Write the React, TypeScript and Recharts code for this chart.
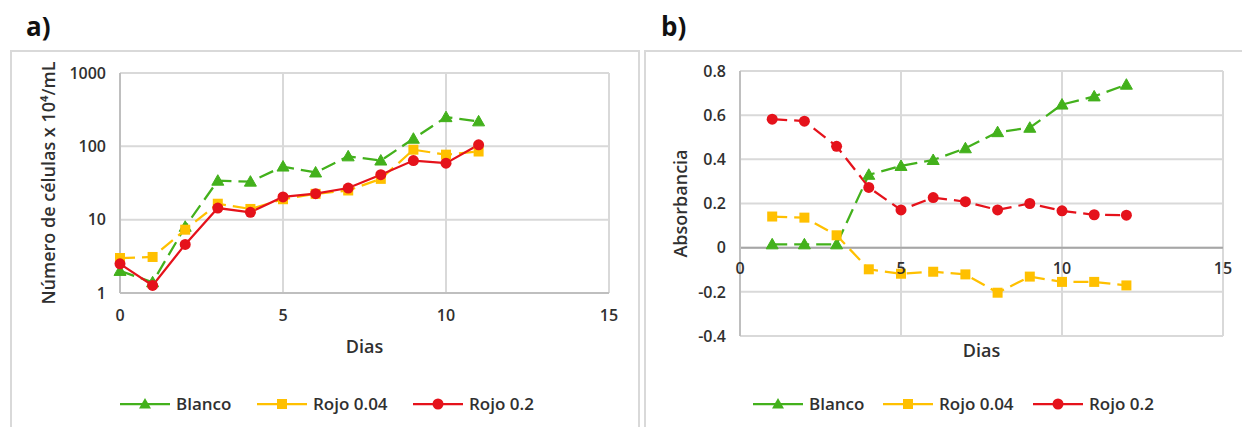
import React from 'react'
import {
  LineChart,
  Line,
  XAxis,
  YAxis,
  CartesianGrid,
  ReferenceLine,
} from 'recharts'

// panel a) cell counts (log scale)
const daysA = [0, 1, 2, 3, 4, 5, 6, 7, 8, 9, 10, 11]
const blancoA = [2.0, 1.4, 8, 34, 33, 53, 44, 73, 64, 127, 250, 219]
const rojo004A = [3.0, 3.1, 7.3, 16.5, 14, 19, 22.5, 25, 36, 90, 77, 85]
const rojo02A = [2.5, 1.27, 4.6, 14.4, 12.6, 20.4, 22.6, 27, 41, 64, 59, 105]

// panel b) absorbance
const daysB = [1, 2, 3, 4, 5, 6, 7, 8, 9, 10, 11, 12]
const blancoB = [0.015, 0.015, 0.015, 0.33, 0.37, 0.397, 0.45, 0.523, 0.543, 0.648, 0.685, 0.738]
const rojo004B = [0.141, 0.136, 0.056, -0.098, -0.118, -0.109, -0.121, -0.204, -0.131, -0.155, -0.155, -0.171]
const rojo02B = [0.582, 0.573, 0.459, 0.273, 0.171, 0.227, 0.208, 0.171, 0.2, 0.167, 0.149, 0.147]

const ticksX = [0, 5, 10, 15]
const ticksYA = [1, 10, 100, 1000]
const ticksYB = [-0.4, -0.2, 0, 0.2, 0.4, 0.6, 0.8]
const domainYB: [number, number] = [-0.4, 0.8]

const seriesNames = ['Blanco', 'Rojo 0.04', 'Rojo 0.2']

const GREEN = '#43b11c'
const ORANGE = '#ffc000'
const RED = '#e5121b'
const GRID = '#d9d9d9'
const TEXT = '#303030'
const FONT = '"Open Sans", "Liberation Sans", sans-serif'

const rowsA = daysA.map((d, i) => ({
  day: d,
  blanco: blancoA[i],
  rojo004: rojo004A[i],
  rojo02: rojo02A[i],
}))

const rowsB = daysB.map((d, i) => ({
  day: d,
  blanco: blancoB[i],
  rojo004: rojo004B[i],
  rojo02: rojo02B[i],
}))

const tickStyle = { fill: TEXT, fontSize: 16, fontWeight: 600, fontFamily: FONT }
const titleStyle = { fill: TEXT, fontSize: 18, fontWeight: 600, fontFamily: FONT }

function triangleDot(color: string) {
  return (p: any) => {
    const { cx, cy, index } = p
    if (cx == null || cy == null) return <g key={`t-${index}`} />
    return (
      <path
        key={`t-${index}`}
        d={`M${cx},${cy - 6} L${cx + 6},${cy + 4.5} L${cx - 6},${cy + 4.5} Z`}
        fill={color}
        stroke={color}
      />
    )
  }
}

function squareDot(color: string) {
  return (p: any) => {
    const { cx, cy, index } = p
    if (cx == null || cy == null) return <g key={`s-${index}`} />
    return <rect key={`s-${index}`} x={cx - 5} y={cy - 5} width={10} height={10} fill={color} />
  }
}

function circleDot(color: string) {
  return (p: any) => {
    const { cx, cy, index } = p
    if (cx == null || cy == null) return <g key={`c-${index}`} />
    return <circle key={`c-${index}`} cx={cx} cy={cy} r={5.5} fill={color} />
  }
}

function LegendRow({ starts }: { starts: number[] }) {
  const colors = [GREEN, ORANGE, RED]
  return (
    <>
      {seriesNames.map((name, i) => (
        <div
          key={name}
          style={{
            position: 'absolute',
            left: starts[i],
            top: 392,
            display: 'flex',
            alignItems: 'center',
            fontFamily: FONT,
            fontWeight: 600,
            fontSize: 17,
            color: TEXT,
            whiteSpace: 'nowrap',
          }}
        >
          <svg width={50} height={22} style={{ marginRight: 6 }}>
            <line x1={0} y1={11} x2={50} y2={11} stroke={colors[i]} strokeWidth={2.25} />
            {i === 0 && <path d="M25,5 L31,15.5 L19,15.5 Z" fill={colors[i]} />}
            {i === 1 && <rect x={20} y={6} width={10} height={10} fill={colors[i]} />}
            {i === 2 && <circle cx={25} cy={11} r={5.5} fill={colors[i]} />}
          </svg>
          <span>{name}</span>
        </div>
      ))}
    </>
  )
}

// x tick labels for b) sit under the zero line, like Excel's crossing axis
const plotHB = 265
const zeroShift = (plotHB * (0 - domainYB[0])) / (domainYB[1] - domainYB[0])

function ZeroTick(p: any) {
  const { x, y, payload } = p
  return (
    <text x={x} y={y - zeroShift} dy={26} textAnchor="middle" {...tickStyle}>
      {payload.value}
    </text>
  )
}

function ChartA() {
  return (
    <LineChart width={640} height={427} data={rowsA} margin={{ top: 73, right: 31, left: 60, bottom: 104 }}>
      <CartesianGrid stroke={GRID} strokeWidth={2} />
      <XAxis
        type="number"
        dataKey="day"
        domain={[0, 15]}
        ticks={ticksX}
        height={30}
        tickSize={0}
        tickMargin={17}
        axisLine={{ stroke: '#bfbfbf', strokeWidth: 2 }}
        tick={tickStyle}
        label={{ value: 'Dias', position: 'bottom', offset: 17, style: titleStyle }}
      />
      <YAxis
        type="number"
        scale="log"
        domain={[1, 1000]}
        ticks={ticksYA}
        allowDataOverflow
        width={60}
        tickSize={0}
        tickMargin={14}
        axisLine={{ stroke: '#bfbfbf', strokeWidth: 2 }}
        tick={tickStyle}
        label={{
          value: 'Número de células x 10⁴/mL',
          angle: -90,
          position: 'left',
          offset: 11,
          style: { ...titleStyle, textAnchor: 'middle' },
        }}
      />
      <Line dataKey="blanco" stroke={GREEN} strokeWidth={2.25} strokeDasharray="15 7" dot={triangleDot(GREEN)} isAnimationActive={false} />
      <Line dataKey="rojo004" stroke={ORANGE} strokeWidth={2.25} strokeDasharray="15 7" dot={squareDot(ORANGE)} isAnimationActive={false} />
      <Line dataKey="rojo02" stroke={RED} strokeWidth={2.25} dot={circleDot(RED)} isAnimationActive={false} />
    </LineChart>
  )
}

function ChartB() {
  return (
    <LineChart width={602} height={427} data={rowsB} margin={{ top: 71, right: 19, left: 40, bottom: 81 }}>
      <CartesianGrid stroke={GRID} strokeWidth={2} />
      <XAxis
        type="number"
        dataKey="day"
        domain={[0, 15]}
        ticks={ticksX}
        height={10}
        tickSize={0}
        tickMargin={0}
        axisLine={false}
        tick={<ZeroTick />}
        label={{ value: 'Dias', position: 'bottom', offset: -2, style: titleStyle }}
      />
      <YAxis
        type="number"
        domain={domainYB}
        ticks={ticksYB}
        width={60}
        tickSize={0}
        tickMargin={14}
        axisLine={{ stroke: '#bfbfbf', strokeWidth: 2 }}
        tick={tickStyle}
        label={{
          value: 'Absorbancia',
          angle: -90,
          position: 'left',
          offset: -1,
          style: { ...titleStyle, textAnchor: 'middle' },
        }}
      />
      <ReferenceLine y={0} stroke="#a6a6a6" strokeWidth={2} />
      <Line dataKey="blanco" stroke={GREEN} strokeWidth={2.25} strokeDasharray="15 7" dot={triangleDot(GREEN)} isAnimationActive={false} />
      <Line dataKey="rojo004" stroke={ORANGE} strokeWidth={2.25} strokeDasharray="15 7" dot={squareDot(ORANGE)} isAnimationActive={false} />
      <Line dataKey="rojo02" stroke={RED} strokeWidth={2.25} strokeDasharray="15 7" dot={circleDot(RED)} isAnimationActive={false} />
    </LineChart>
  )
}

const panelLabel = {
  position: 'absolute' as const,
  top: 8,
  fontFamily: FONT,
  fontWeight: 700,
  fontSize: 26,
  color: '#111',
}

export default function App() {
  return (
    <div
      style={{
        position: 'absolute',
        left: 0,
        top: 0,
        width: 1242,
        height: 427,
        overflow: 'hidden',
        background: '#fff',
      }}
    >
      <div style={{ position: 'absolute', left: 10, top: 50, width: 626, height: 400, border: `2px solid ${GRID}` }} />
      <div style={{ position: 'absolute', left: 644, top: 50, width: 620, height: 400, border: `2px solid ${GRID}` }} />
      <div style={{ ...panelLabel, left: 26 }}>a)</div>
      <div style={{ ...panelLabel, left: 661 }}>b)</div>
      <div style={{ position: 'absolute', left: 0, top: 0 }}>
        <ChartA />
      </div>
      <div style={{ position: 'absolute', left: 640, top: 0 }}>
        <ChartB />
      </div>
      <LegendRow starts={[120, 257, 413]} />
      <LegendRow starts={[753, 883, 1033]} />
    </div>
  )
}
